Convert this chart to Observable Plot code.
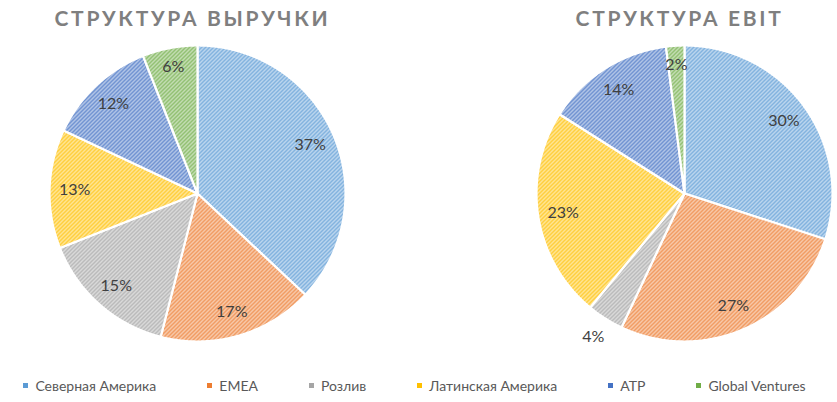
<!DOCTYPE html>
<html>
<head>
<meta charset="utf-8">
<script src="https://cdn.jsdelivr.net/npm/d3@7"></script>
<script src="https://cdn.jsdelivr.net/npm/@observablehq/plot@0.6"></script>
<style>
  html, body { margin: 0; padding: 0; background: #fff; }
  #wrap { width: 837px; height: 402px; position: relative; overflow: hidden; }
  .legend { display: flex; justify-content: center; align-items: center; gap: 51px; height: 28px;
            font-family: Lato, "Open Sans", sans-serif; font-size: 14px; color: #595959; margin-left: -8px; }
  .legend span.item { display: flex; align-items: center; white-space: nowrap; }
  .legend i { display: inline-block; width: 5px; height: 5px; margin-right: 7px; }
</style>
</head>
<body>
<div id="wrap"></div>
<script>
// ---- data ----
const categories = ["Северная Америка", "EMEA", "Розлив", "Латинская Америка", "ATP", "Global Ventures"];
const revenueShare = [37, 17, 15, 13, 12, 6];
const ebitShare = [30, 27, 4, 23, 14, 2];
const chartTitles = ["СТРУКТУРА ВЫРУЧКИ", "СТРУКТУРА EBIT"];

// ---- style / layout ----
const lineColors = ["#5B9BD5", "#ED7D31", "#A5A5A5", "#FFC000", "#4472C4", "#70AD47"];
const bgColors = lineColors.map(c => d3.interpolateRgb(c, "#ffffff")(0.68));
const W = 837, H = 371;
const pies = [
  {values: revenueShare, cx: 197, cy: 193, r: 148, titleX: 192},
  {values: ebitShare, cx: 684, cy: 193, r: 148, titleX: 679}
];

const pie = d3.pie().sort(null).value(d => d);
const pt = (p, a, k) => ({x: p.cx + k * p.r * Math.sin(a), y: p.cy - k * p.r * Math.cos(a)});

const sliceMarks = [];
const labels = [];
pies.forEach((p, pi) => {
  const arcs = pie(p.values);
  arcs.forEach((a, i) => {
    const pts = [{x: p.cx, y: p.cy}];
    const n = Math.max(2, Math.ceil((a.endAngle - a.startAngle) / (Math.PI / 360)));
    for (let j = 0; j <= n; j++) pts.push(pt(p, a.startAngle + (a.endAngle - a.startAngle) * j / n, 1));
    pts.push({x: p.cx, y: p.cy});
    sliceMarks.push(Plot.line(pts, {
      x: "x", y: "y", curve: "linear",
      fill: `url(#hatch-${i})`, stroke: "#ffffff", strokeWidth: 2.2, strokeLinejoin: "round"
    }));
    const mid = (a.startAngle + a.endAngle) / 2;
    // small slice in EBIT pie ("Розлив") is labelled outside, like the original
    const k = (pi === 1 && i === 2) ? 1.15 : (a.value <= 6 ? 0.87 : 0.83);
    labels.push({...pt(p, mid, k), text: `${a.value}%`});
  });
});

const defsMark = () => {
  const defs = d3.create("svg:defs");
  lineColors.forEach((c, i) => {
    const pat = defs.append("pattern").attr("id", `hatch-${i}`)
      .attr("patternUnits", "userSpaceOnUse").attr("width", 4).attr("height", 4);
    pat.append("rect").attr("width", 4).attr("height", 4).attr("fill", bgColors[i]);
    pat.append("path").attr("d", "M-1,1L1,-1M0,4L4,0M3,5L5,3")
      .attr("stroke", c).attr("stroke-width", 1.2);
  });
  return defs.node();
};

const chart = Plot.plot({
  width: W, height: H,
  margin: 0,
  x: {domain: [0, W], range: [0, W], axis: null},
  y: {domain: [0, H], range: [0, H], axis: null},
  style: {fontFamily: "Lato, 'Open Sans', sans-serif", background: "#fff"},
  marks: [
    defsMark,
    ...sliceMarks,
    Plot.text(labels, {x: "x", y: "y", text: "text", fontSize: 16, fill: "#404040"}),
    Plot.text(chartTitles.map((t, i) => ({t, x: pies[i].titleX, y: 19})), {
      x: "x", y: "y", text: "t", fontSize: 21, fontWeight: "bold", fill: "#7F7F7F"
    })
  ]
});
d3.select(chart).selectAll("text").filter(function () { return chartTitles.includes(this.textContent); })
  .attr("letter-spacing", "2.7px");

const wrap = document.getElementById("wrap");
wrap.appendChild(chart);
const legend = d3.select(wrap).append("div").attr("class", "legend");
categories.forEach((c, i) => {
  const it = legend.append("span").attr("class", "item");
  it.append("i").style("background", lineColors[i]);
  it.append("span").text(c);
});
</script>
</body>
</html>
